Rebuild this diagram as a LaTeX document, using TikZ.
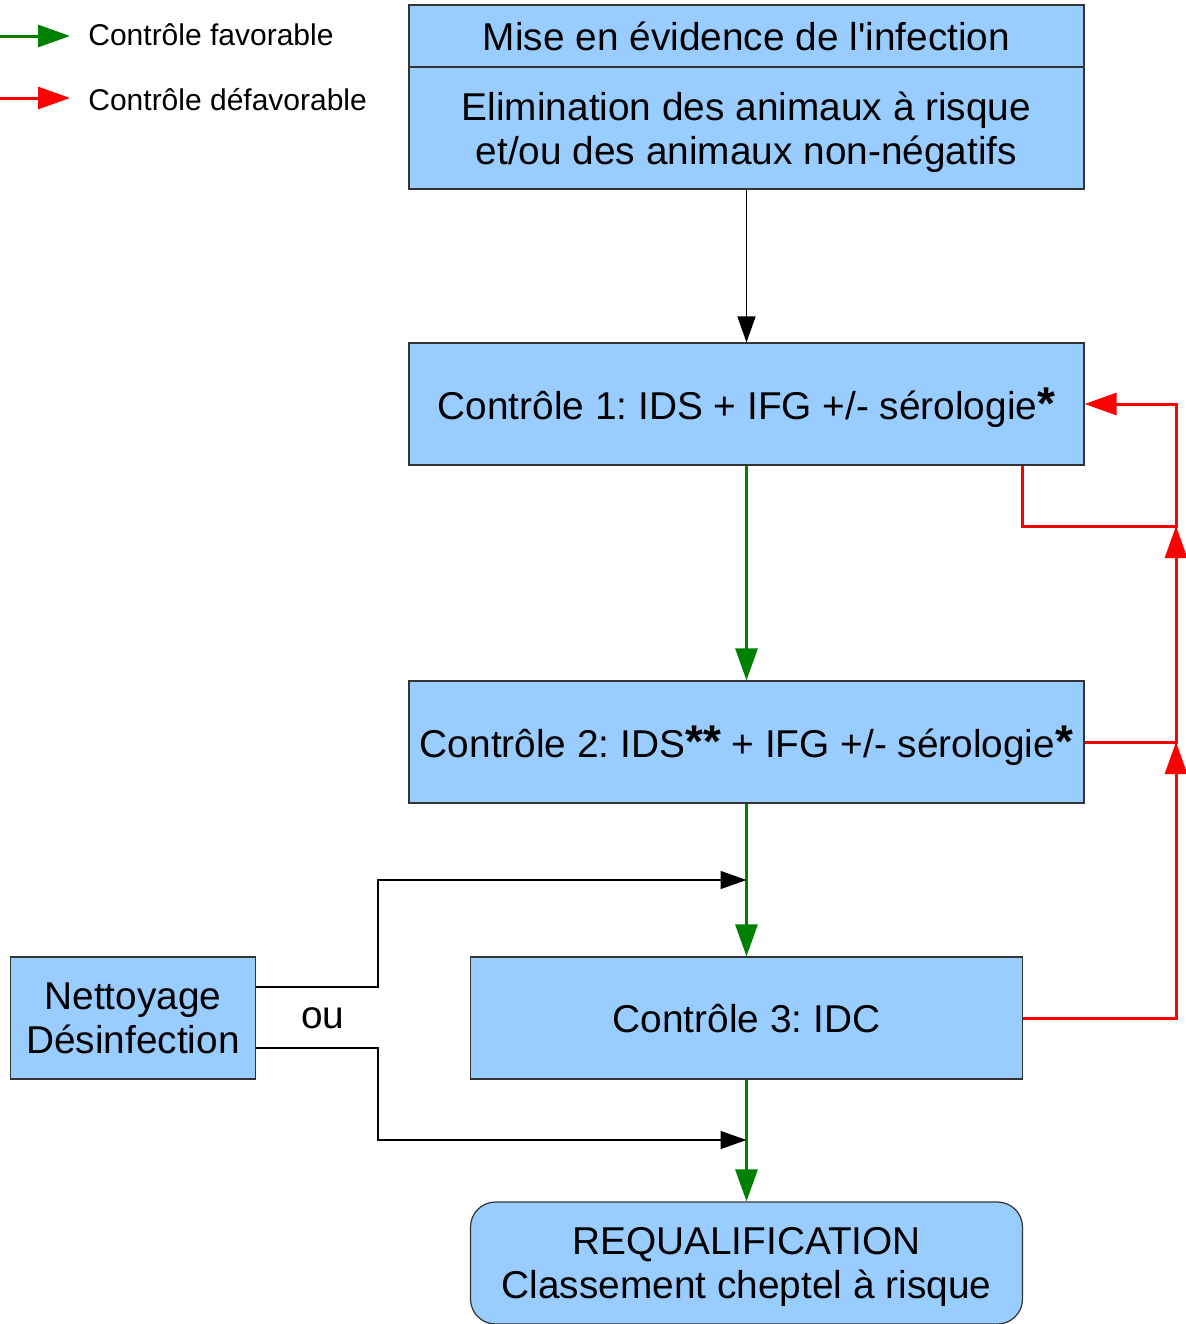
\documentclass[tikz,border=0pt]{standalone}
\usepackage{fontspec}
\setmainfont{Liberation Sans}
\usetikzlibrary{arrows.meta}

\definecolor{boxblue}{HTML}{99CCFF}
\definecolor{okgreen}{HTML}{008000}
\definecolor{badred}{HTML}{FF0000}
\definecolor{edgegray}{HTML}{333333}

% bold footnote asterisk, a bit larger than the text
\newcommand{\fnmark}{{\fontsize{23}{23}\selectfont\bfseries *}}

\tikzset{
  box/.style={draw=edgegray, line width=0.6pt, fill=boxblue, inner sep=0pt,
    align=center, text depth=0pt, font=\fontsize{19.4}{22}\selectfont\frenchspacing},
  blkarrow/.style={draw=black, line width=0.7pt, -{Triangle[length=13pt,width=9pt]}},
  okarrow/.style={draw=okgreen, line width=1.5pt, -{Triangle[length=16pt,width=11pt]}},
  badarrow/.style={draw=badred, line width=1.5pt, -{Triangle[length=16pt,width=11pt]}},
  legendtext/.style={font=\fontsize{15}{18}\selectfont, anchor=west, inner xsep=9pt}
}

\begin{document}
\begin{tikzpicture}[x=0.5pt, y=-0.5pt]
  \useasboundingbox (0,0) rectangle (1186,1324);

  % Legend
  \coordinate (lgok) at (0,36);
  \coordinate (lgbad) at (0,98);
  \node[legendtext] (lgoktext) at (70,35) {Contrôle favorable};
  \node[legendtext] (lgbadtext) at (70,100) {Contrôle défavorable};
  \draw[okarrow] (lgok) -- (lgok -| lgoktext.west);
  \draw[badarrow] (lgbad) -- (lgbad -| lgbadtext.west);

  % Top box: infection + elimination
  \node[box, minimum width=337.5pt, minimum height=31pt] (infect) at (746.5,36)
    {Mise en évidence de l\textquotesingle infection};
  \node[box, minimum width=337.5pt, minimum height=61pt] (elim) at (746.5,128)
    {Elimination des animaux à risque\\et/ou des animaux non-négatifs};

  % Controls
  \node[box, minimum width=337.5pt, minimum height=61pt] (ctrl1) at (746.5,404)
    {Contrôle 1: IDS + IFG +/- sérologie\fnmark};
  \node[box, minimum width=337.5pt, minimum height=61pt] (ctrl2) at (746.5,742)
    {Contrôle 2: IDS\fnmark\fnmark{} + IFG +/- sérologie\fnmark};
  \node[box, minimum width=276pt, minimum height=61pt] (ctrl3) at (746.5,1018)
    {Contrôle 3: IDC};
  \node[box, minimum width=276pt, minimum height=61pt, rounded corners=12.5pt] (requal) at (746.5,1263)
    {REQUALIFICATION\\Classement cheptel à risque};

  % Cleaning box
  \node[box, minimum width=122.5pt, minimum height=61pt] (clean) at (133,1018)
    {Nettoyage\\Désinfection};
  \node[font=\fontsize{19.4}{22}\selectfont] (ou) at (323,1018) {ou};

  % Main chain
  \draw[blkarrow] (elim.south) -- (ctrl1.north);
  \draw[okarrow] (ctrl1.south) -- (ctrl2.north);
  \draw[okarrow] (ctrl2.south) -- (ctrl3.north);
  \draw[okarrow] (ctrl3.south) -- (requal.north);

  % Cleaning before control 3 or after
  \coordinate (fork) at (378,1018);
  \coordinate (before3) at (746.5,880);
  \coordinate (after3) at (746.5,1140);
  \draw[blkarrow] ([yshift=15.5pt]clean.east) -| (fork |- before3) -- (before3);
  \draw[blkarrow] ([yshift=-15pt]clean.east) -| (fork |- after3) -- (after3);

  % Unfavourable returns
  \coordinate (rail) at (1176,526);
  \draw[badarrow] ([xshift=-31pt]ctrl1.south east) |- (rail) |- (ctrl1.east);
  \draw[badarrow] (ctrl2.east) -| (rail);
  \draw[badarrow] (ctrl3.east) -| (rail |- ctrl2.east);
\end{tikzpicture}
\end{document}
